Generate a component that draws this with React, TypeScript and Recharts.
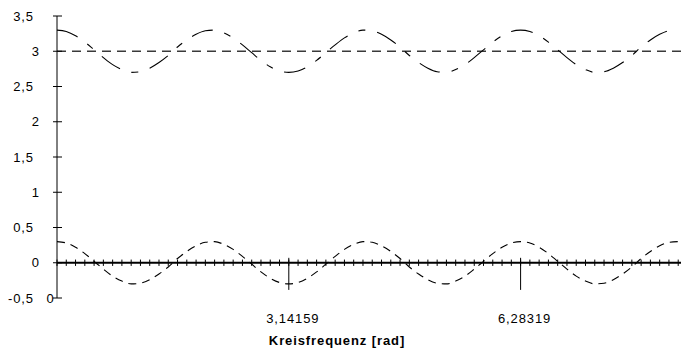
import React from 'react';
import { LineChart, Line, XAxis, YAxis, ReferenceLine } from 'recharts';

// samples k = 0..67, spacing pi/25 rad
const schwingung = [
  0.3, 0.28, 0.22, 0.13, 0.02, -0.09, -0.19, -0.26, -0.3, -0.29, -0.24, -0.16, -0.06, 0.06, 0.16, 0.24, 0.29,
  0.3, 0.26, 0.19, 0.09, -0.02, -0.13, -0.22, -0.28, -0.3, -0.28, -0.22, -0.13, -0.02, 0.09, 0.19, 0.26, 0.3,
  0.29, 0.24, 0.16, 0.06, -0.06, -0.16, -0.24, -0.29, -0.3, -0.26, -0.19, -0.09, 0.02, 0.13, 0.22, 0.28, 0.3,
  0.28, 0.22, 0.13, 0.02, -0.09, -0.19, -0.26, -0.3, -0.29, -0.24, -0.16, -0.06, 0.06, 0.16, 0.24, 0.29, 0.3,
];

const verschoben = [
  3.3, 3.28, 3.22, 3.13, 3.02, 2.91, 2.81, 2.74, 2.7, 2.71, 2.76, 2.84, 2.94, 3.06, 3.16, 3.24, 3.29,
  3.3, 3.26, 3.19, 3.09, 2.98, 2.87, 2.78, 2.72, 2.7, 2.72, 2.78, 2.87, 2.98, 3.09, 3.19, 3.26, 3.3,
  3.29, 3.24, 3.16, 3.06, 2.94, 2.84, 2.76, 2.71, 2.7, 2.74, 2.81, 2.91, 3.02, 3.13, 3.22, 3.28, 3.3,
  3.28, 3.22, 3.13, 3.02, 2.91, 2.81, 2.74, 2.7, 2.71, 2.76, 2.84, 2.94, 3.06, 3.16, 3.24, 3.29, 3.3,
];

const mittelwert = 3;

const xTickPositions = [0, 25, 50];
const xTickLabels = ['0', '3,14159', '6,28319'];
const majorTicks = [25, 50];

const yTicks = [-0.5, 0, 0.5, 1, 1.5, 2, 2.5, 3, 3.5];

const data = schwingung.map((v, k) => ({ k, unten: v, oben: verschoben[k] }));

const FONT = '"Liberation Sans", Arial, sans-serif';
const AXIS_X = 57;

const YTick = (props: any) => {
  const { y, payload } = props;
  const v: number = payload.value;
  const label = String(v).replace('.', ',');
  const isInt = Number.isInteger(v);
  return (
    <g>
      <line x1={AXIS_X - 4} x2={AXIS_X + 5} y1={y} y2={y} stroke="#000" />
      <text
        x={isInt ? 40 : 34}
        y={y}
        dy="0.35em"
        textAnchor="end"
        fontSize={13}
        letterSpacing={0.9}
        fontFamily={FONT}
        fill="#000"
      >
        {label}
      </text>
    </g>
  );
};

const XTick = (props: any) => {
  const { x, payload } = props;
  const idx = xTickPositions.indexOf(payload.value);
  const label = xTickLabels[idx];
  if (payload.value === 0) {
    return (
      <text x={50} y={303} textAnchor="middle" fontSize={13} fontFamily={FONT} fill="#000">
        {label}
      </text>
    );
  }
  return (
    <text x={x + 4} y={322.5} textAnchor="middle" fontSize={13} letterSpacing={0.9} fontFamily={FONT} fill="#000">
      {label}
    </text>
  );
};

export default function App() {
  return (
    <div style={{ position: 'absolute', left: 0, top: 0, width: 681, height: 351, background: '#fff', fontFamily: FONT }}>
      <LineChart width={681} height={351} data={data} margin={{ top: 16, right: 0, bottom: 23, left: 0 }}>
        <XAxis
          dataKey="k"
          type="number"
          domain={[0, 67.3]}
          ticks={xTickPositions}
          axisLine={false}
          tickLine={false}
          height={30}
          tick={<XTick />}
          interval={0}
          allowDataOverflow
        />
        <YAxis
          type="number"
          domain={[-0.5, 3.5]}
          ticks={yTicks}
          width={AXIS_X}
          axisLine={{ stroke: '#000', strokeWidth: 1 }}
          tickLine={false}
          tick={<YTick />}
          interval={0}
        />
        <ReferenceLine y={0} stroke="#000" strokeWidth={2} />
        {data.map((d) => (
          <ReferenceLine
            key={'t' + d.k}
            segment={[
              { x: d.k, y: 0.045 },
              { x: d.k, y: -0.045 },
            ]}
            stroke="#000"
            strokeWidth={1}
          />
        ))}
        {majorTicks.map((k) => (
          <ReferenceLine
            key={'m' + k}
            segment={[
              { x: k, y: 0.07 },
              { x: k, y: -0.385 },
            ]}
            stroke="#000"
            strokeWidth={1}
          />
        ))}
        <ReferenceLine y={mittelwert} stroke="#3a3a3a" strokeWidth={1.4} strokeDasharray="9 6" />
        <Line
          dataKey="oben"
          type="monotone"
          stroke="#000"
          strokeWidth={1.1}
          strokeDasharray="22 12 7 12"
          dot={false}
          isAnimationActive={false}
        />
        <Line
          dataKey="unten"
          type="monotone"
          stroke="#000"
          strokeWidth={1.1}
          strokeDasharray="8 6"
          dot={false}
          isAnimationActive={false}
        />
      </LineChart>
      <svg width={681} height={351} style={{ position: 'absolute', left: 0, top: 0, pointerEvents: 'none' }}>
        <text x={337} y={345} textAnchor="middle" fontSize={13} fontWeight="bold" letterSpacing={0.9} fontFamily={FONT} fill="#000">
          Kreisfrequenz [rad]
        </text>
      </svg>
    </div>
  );
}
